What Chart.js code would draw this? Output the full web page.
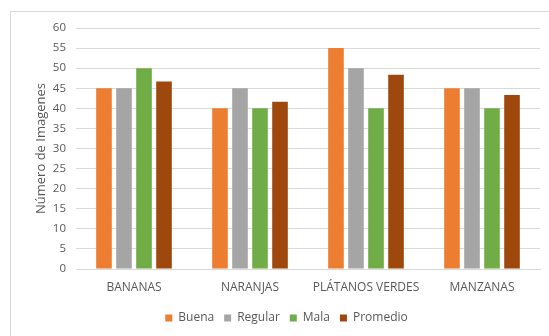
<!DOCTYPE html>
<html>
<head>
<meta charset="utf-8">
<script src="https://cdn.jsdelivr.net/npm/chart.js@4"></script>
<style>
  html, body { margin: 0; padding: 0; background: #fff; overflow: hidden; }
  #wrap { position: relative; width: 549px; height: 336px; }
  #marco {
    position: absolute; left: 10px; top: 11px; width: 600px; height: 400px;
    border-left: 1px solid #d9d9d9; border-top: 1px solid #d9d9d9;
    pointer-events: none;
  }
</style>
</head>
<body>
<div id="wrap">
  <canvas id="grafico" width="549" height="336"></canvas>
  <div id="marco"></div>
</div>
<script>
"use strict";

/* ---- datos ---- */
const categorias = ["BANANAS", "NARANJAS", "PLÁTANOS VERDES", "MANZANAS"];
const buena    = [45, 40, 55, 45];
const regular  = [45, 45, 50, 45];
const mala     = [50, 40, 40, 40];
const promedio = [46.67, 41.67, 48.33, 43.33];

const TEXTO = "#595959";
const FUENTE = "'Open Sans', 'Liberation Sans', sans-serif";

function serie(label, data, color) {
  return {
    label: label,
    data: data,
    backgroundColor: color,
    borderWidth: 0,
    categoryPercentage: 0.69,
    barPercentage: 0.78
  };
}

Chart.defaults.font.family = FUENTE;
Chart.defaults.color = TEXTO;

new Chart(document.getElementById("grafico").getContext("2d"), {
  type: "bar",
  data: {
    labels: categorias,
    datasets: [
      serie("Buena", buena, "#ED7D31"),
      serie("Regular", regular, "#A5A5A5"),
      serie("Mala", mala, "#70AD47"),
      serie("Promedio", promedio, "#9E480E")
    ]
  },
  options: {
    responsive: false,
    animation: false,
    layout: { padding: { top: 28, right: 9, bottom: 2, left: 33 } },
    plugins: {
      tooltip: { enabled: false },
      legend: {
        position: "bottom",
        labels: {
          boxWidth: 7,
          boxHeight: 7,
          padding: 10,
          color: TEXTO,
          font: { size: 12 }
        }
      }
    },
    scales: {
      x: {
        grid: { display: false, drawTicks: false },
        border: { color: "#d9d9d9" },
        ticks: { padding: 11, color: TEXTO, font: { size: 12 }, maxRotation: 0 },
        afterFit: (s) => { s.height = 33; }
      },
      y: {
        min: 0,
        max: 60,
        ticks: { stepSize: 5, padding: 10, color: TEXTO, font: { size: 11.5 } },
        grid: { color: "#d9d9d9", drawTicks: false },
        border: { display: false },
        title: {
          display: true,
          text: "Número de Imagenes",
          color: TEXTO,
          font: { size: 13 },
          padding: 0
        },
        afterFit: (s) => { s.width = 43; }
      }
    }
  }
});
</script>
</body>
</html>
